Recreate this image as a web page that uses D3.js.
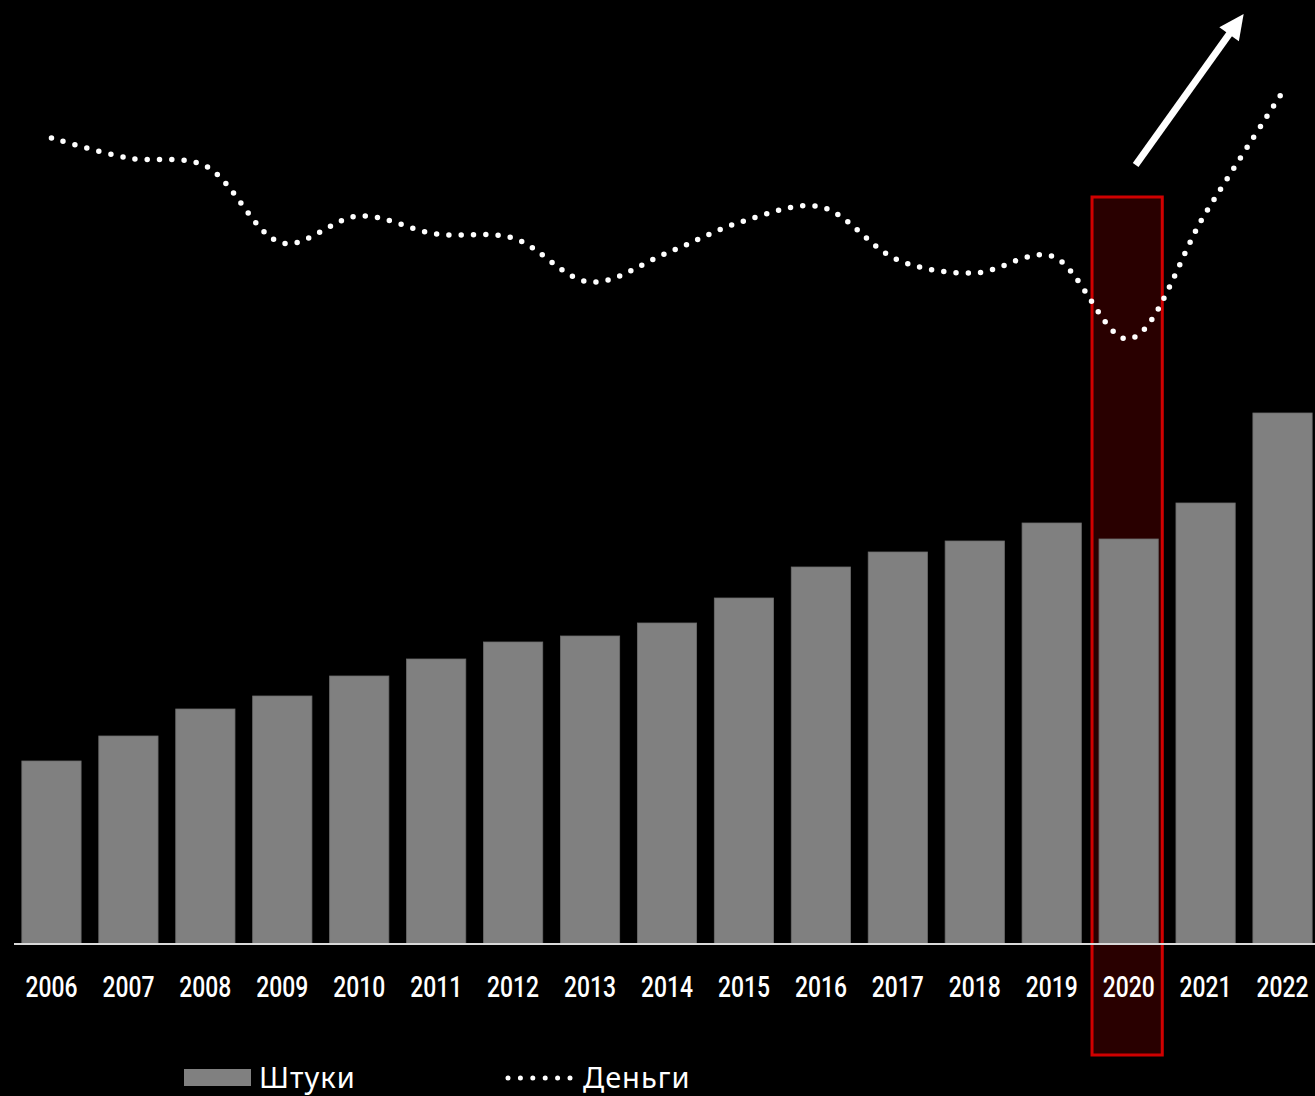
<!DOCTYPE html>
<html>
<head>
<meta charset="utf-8">
<script src="https://cdn.jsdelivr.net/npm/d3@7"></script>
<style>
  html, body { margin: 0; padding: 0; background: #000; }
  svg { display: block; }
</style>
</head>
<body>
<script>
// данные
const years = ["2006", "2007", "2008", "2009", "2010", "2011", "2012", "2013", "2014",
  "2015", "2016", "2017", "2018", "2019", "2020", "2021", "2022"];
// Штуки (столбцы)
const units = [183, 208, 235, 248, 268, 285, 302, 308, 321, 346, 377, 392, 403, 421, 405, 441, 531];
// Деньги (пунктир)
const money = [806, 786, 778, 701, 728, 710, 706, 662, 691, 723, 737, 684, 671, 688, 605, 731, 852];
const highlightYear = "2020";
const legendLabels = ["Штуки", "Деньги"];

const width = 1315, height = 1096;
const baseY = 944;

const svg = d3.select("body").append("svg")
  .attr("width", width)
  .attr("height", height)
  .style("background", "#000");

const x = d3.scaleBand()
  .domain(years)
  .range([13, 1321])
  .paddingInner(0.23)
  .paddingOuter(0.115);

const y = d3.scaleLinear().domain([0, 1000]).range([baseY, baseY - 1000]);
const yMoney = d3.scaleLinear().domain([0, 1000]).range([baseY, baseY - 1000]);

// подсветка 2020
const hx = x(highlightYear);
svg.append("rect")
  .attr("x", hx - 7)
  .attr("y", 197)
  .attr("width", x.bandwidth() + 11)
  .attr("height", 1055 - 197)
  .attr("fill", "#290000")
  .attr("stroke", "#d00000")
  .attr("stroke-width", 3);

// столбцы
svg.append("g")
  .selectAll("rect")
  .data(units)
  .join("rect")
  .attr("x", (d, i) => x(years[i]))
  .attr("y", d => y(d))
  .attr("width", x.bandwidth())
  .attr("height", d => y(0) - y(d))
  .attr("fill", "#808080")
  .attr("stroke", "#6c6c6c")
  .attr("stroke-width", 0.8);

// ось
svg.append("line")
  .attr("x1", 14).attr("x2", width)
  .attr("y1", baseY).attr("y2", baseY)
  .attr("stroke", "#d9d9d9")
  .attr("stroke-width", 2);

const xAxis = d3.axisBottom(x).tickSize(0).tickPadding(0);
const gx = svg.append("g")
  .attr("transform", `translate(0,${baseY})`)
  .call(xAxis);
gx.select(".domain").remove();
gx.selectAll("text")
  .attr("y", 53)
  .attr("dy", 0)
  .attr("fill", "#fff")
  .attr("textLength", 52)
  .attr("lengthAdjust", "spacingAndGlyphs")
  .style("font-family", "Roboto, 'DejaVu Sans', sans-serif")
  .style("font-weight", "500")
  .style("font-size", "29px");

// линия денег
const line = d3.line()
  .x((d, i) => x(years[i]) + x.bandwidth() / 2)
  .y(d => yMoney(d))
  .curve(d3.curveCatmullRom.alpha(0.5));

svg.append("path")
  .datum(money)
  .attr("d", line)
  .attr("fill", "none")
  .attr("stroke", "#fff")
  .attr("stroke-width", 5.5)
  .attr("stroke-linecap", "round")
  .attr("stroke-dasharray", "0 12.3");

// стрелка
const ax0 = hx + x.bandwidth() / 2 + 7, ay0 = 165;
const ax1 = ax0 + 108, ay1 = 14;
const dx = ax1 - ax0, dy = ay1 - ay0, len = Math.hypot(dx, dy);
const ux = dx / len, uy = dy / len;
const headL = 25, headW = 12;
svg.append("line")
  .attr("x1", ax0).attr("y1", ay0)
  .attr("x2", ax1 - ux * (headL - 4)).attr("y2", ay1 - uy * (headL - 4))
  .attr("stroke", "#fff")
  .attr("stroke-width", 7);
const bx = ax1 - ux * headL, by = ay1 - uy * headL;
svg.append("polygon")
  .attr("points", [
    [ax1, ay1],
    [bx - uy * headW, by + ux * headW],
    [bx + uy * headW, by - ux * headW]
  ].map(p => p.join(",")).join(" "))
  .attr("fill", "#fff");

// легенда
const legend = svg.append("g").style("font-family", "'Noto Sans', sans-serif");
legend.append("rect")
  .attr("x", 184).attr("y", 1069)
  .attr("width", 67).attr("height", 17)
  .attr("fill", "#808080");
legend.append("text")
  .attr("x", 259).attr("y", 1088)
  .attr("fill", "#fff")
  .style("font-size", "29px")
  .style("letter-spacing", "1px")
  .text(legendLabels[0]);
legend.append("line")
  .attr("x1", 508).attr("x2", 571)
  .attr("y1", 1078).attr("y2", 1078)
  .attr("stroke", "#fff")
  .attr("stroke-width", 5)
  .attr("stroke-linecap", "round")
  .attr("stroke-dasharray", "0 12.4");
legend.append("text")
  .attr("x", 583).attr("y", 1088)
  .attr("fill", "#fff")
  .style("font-size", "29px")
  .style("letter-spacing", "1px")
  .text(legendLabels[1]);
</script>
</body>
</html>
